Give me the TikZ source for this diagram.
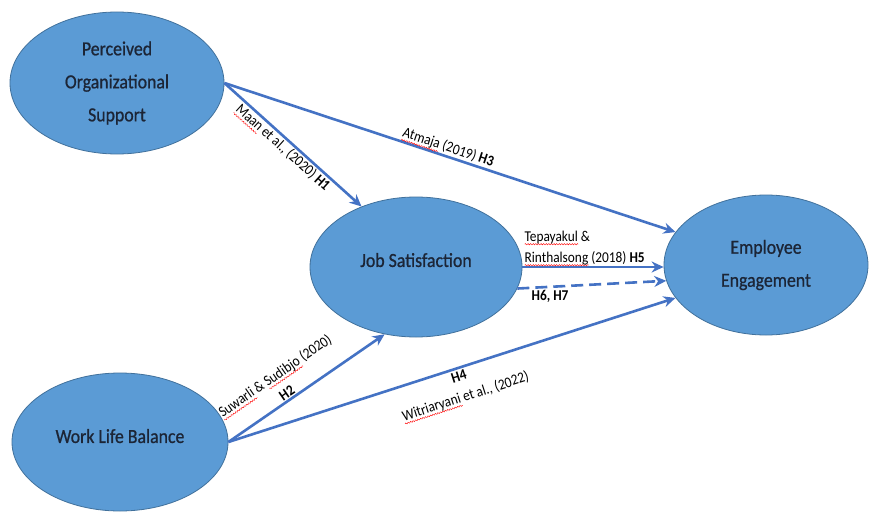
\documentclass[tikz,border=0pt]{standalone}
\usepackage{fontspec}
\setmainfont{Carlito}[FakeStretch=0.89]
\newfontfamily\ovalfont{Carlito}[FakeStretch=0.89, FakeBold=0.8]
\usetikzlibrary{
  arrows.meta,              % Stealth 箭头
  shapes.geometric,         % 椭圆节点
  decorations.pathmorphing, % 波浪下划线
  positioning               % 节点相对定位
}

\definecolor{ovalfill}{HTML}{5B9BD5}
\definecolor{ovalline}{HTML}{41719C}
\definecolor{pathblue}{HTML}{4472C4}
\definecolor{ovaltext}{HTML}{1C2536}

% 红色波浪下划线（拼写检查标记）
\newlength{\spellwd}
\newcommand{\spellmark}[1]{%
  \settowidth{\spellwd}{#1}%
  \rlap{\smash{\tikz[baseline=0pt, x=1pt, y=1pt]
    \draw[red, -, solid, line width=0.4pt, decorate,
      decoration={zigzag, segment length=2.6pt, amplitude=0.7pt}]
      (0pt,-3pt) -- (\spellwd,-3pt);}}%
  #1}

\begin{document}
\begin{tikzpicture}[x=1pt, y=-1pt,
  construct/.style={ellipse, draw=ovalline, fill=ovalfill, line width=0.8pt,
    inner sep=0pt, text=ovaltext, align=center,
    font=\ovalfont\fontsize{20}{33}\selectfont},
  path arrow/.style={draw=pathblue, line width=2.6pt,
    -{Stealth[length=12pt, width=11pt]}},
  cite/.style={font=\fontsize{15}{21}\selectfont, text=black, inner sep=2pt}]

  % 画布范围
  \path[use as bounding box, fill=white] (0,0) rectangle (869,511);

  % 1. 四个变量（椭圆）
  \node[construct, minimum width=214pt, minimum height=142pt] (pos) at (117,83)
    {Perceived\\Organizational\\Support};
  \node[construct, minimum width=212pt, minimum height=140pt, text depth=14pt]
    (js) at (416,267) {Job Satisfaction};
  \node[construct, minimum width=204pt, minimum height=140pt] (ee) at (766,265)
    {Employee\\Engagement};
  \node[construct, minimum width=216pt, minimum height=138pt, text depth=12pt]
    (wlb) at (120,442) {Work Life Balance};

  % 2. 假设路径
  \draw[path arrow] (pos.east) -- (js.132)
    node[cite, sloped, below, pos=0.47] {\spellmark{Maan} et al., (2020) \textbf{H1}};
  \draw[path arrow] (pos.east) -- (ee.160)
    node[cite, sloped, above, pos=0.49] {\spellmark{Atmaja} (2019) \textbf{H3}};
  \draw[path arrow] (js.east) -- (js.east -| ee.west)
    node[cite, pos=0, anchor=south west, align=left]
    {\spellmark{Tepayakul} \&\\\spellmark{Rinthalsong} (2018) \textbf{H5}};
  \draw[path arrow, dash pattern=on 12pt off 6pt] (js.-12) -- (ee.189)
    node[cite, below, pos=0.22] {\textbf{H6, H7}};
  \draw[path arrow] (wlb.east) -- (js.245)
    node[cite, sloped, above, align=center, pos=0.4]
    {\spellmark{Suwarli} \& \spellmark{Sudibjo} (2020)\\\textbf{H2}};
  \draw[path arrow] (wlb.east) -- (ee.200)
    node[cite, sloped, below=1pt, align=center, pos=0.51]
    {\textbf{H4}\\\spellmark{Witriaryani} et al., (2022)};

\end{tikzpicture}
\end{document}
